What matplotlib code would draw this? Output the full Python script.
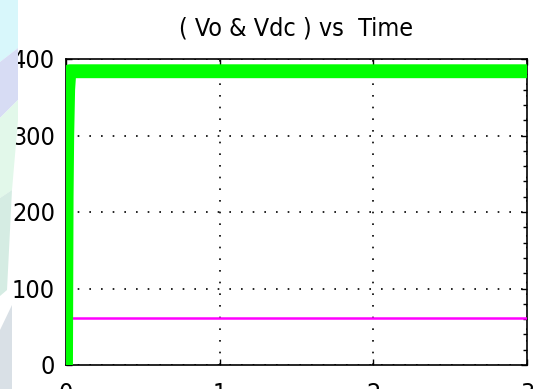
import matplotlib
matplotlib.use('Agg')
import matplotlib.pyplot as plt
from matplotlib.patches import Polygon
import numpy as np

matplotlib.rcParams['font.family'] = ['DejaVu Sans']
matplotlib.rcParams['font.stretch'] = 'condensed'
matplotlib.rcParams['font.size'] = 18

# data
t_vo = [0.0, 0.004, 0.008, 0.014, 0.022, 3.0]
vo = [0.0, 220.0, 300.0, 360.0, 384.0, 384.0]
t_vdc = [0.0, 3.0]
vdc = [62.0, 62.0]

x_ticks = [0, 1, 2, 3]
y_ticks = [0, 100, 200, 300, 400]
title = '( Vo & Vdc ) vs  Time'

W, H = 544, 389
fig = plt.figure(figsize=(W / 100, H / 100), dpi=100)
fig.patch.set_facecolor('white')

# faint slide-background shapes on the left edge (pixel coords -> figure coords)
def px(pts):
    return [(x / W, 1 - y / H) for x, y in pts]

bg = [
    ([(0, 0), (18, 0), (18, 48), (0, 62)], '#d8f7fb'),
    ([(0, 62), (18, 48), (18, 100), (0, 118)], '#d7dcf4'),
    ([(0, 118), (18, 100), (18, 120), (12, 190), (0, 198)], '#e2f8ea'),
    ([(0, 198), (12, 190), (7, 290), (0, 296)], '#d5ece3'),
    ([(0, 330), (12, 305), (12, 389), (0, 389)], '#d9e0e6'),
]
for pts, col in bg:
    fig.patches.append(Polygon(px(pts), closed=True, facecolor=col,
                               edgecolor='none', transform=fig.transFigure,
                               zorder=0))

ax = fig.add_axes([66 / W, 1 - 365 / H, (527 - 66) / W, (365 - 59) / H])
ax.set_facecolor('white')

ax.plot(t_vdc, vdc, color='#ff00ff', lw=1.8, zorder=3)
ax.plot(t_vo, vo, color='#00ff00', lw=10, solid_joinstyle='round',
        solid_capstyle='butt', zorder=4)

ax.set_xlim(0, 3)
ax.set_ylim(0, 400)
ax.set_xticks(x_ticks)
ax.set_yticks(y_ticks)
ax.set_yticks(np.arange(0, 401, 20), minor=True)
ax.tick_params(which='major', direction='in', top=True, right=True,
               length=4, width=1, pad=8, colors='black')
ax.tick_params(which='minor', direction='in', left=False, right=True,
               length=3, width=1)
ax.tick_params(axis='x', pad=12)

ax.grid(True, which='major', color='black', linestyle=(0, (1, 6)), linewidth=1.2)
for s in ax.spines.values():
    s.set_linewidth(1.2)
    s.set_color('black')

ax.set_title(title, fontsize=18, pad=17)

fig.savefig('out.png', dpi=100)
